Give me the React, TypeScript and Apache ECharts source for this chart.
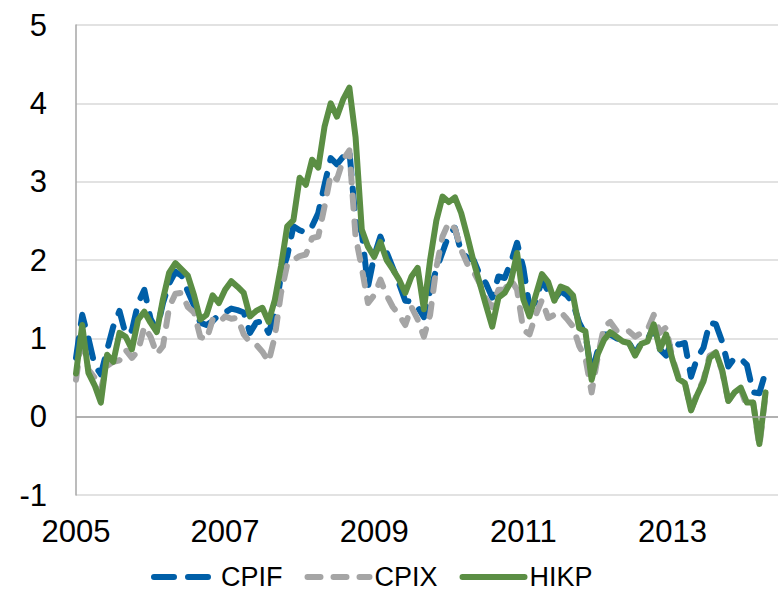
import React, { useEffect, useRef } from "react";
import * as echarts from "echarts";

const START_YEAR = 2005;
const MONTH_COUNT = 114; // Jan 2005 .. Jun 2014 (axis extent)
const MONTHS: string[] = [];
for (let k = 0; k < MONTH_COUNT; k++) {
  const y = START_YEAR + Math.floor(k / 12);
  const m = (k % 12) + 1;
  MONTHS.push(`${y}-${m < 10 ? "0" + m : m}`);
}

const SERIES_NAMES = ["CPIF", "CPIX", "HIKP"];

const CPIF = [
  0.75, 1.3, 1.0, 0.66, 0.54, 0.85, 1.15, 1.35, 1.05, 1.1, 1.45, 1.62,
  1.25, 1.1, 1.45, 1.7, 1.85, 1.8, 1.6, 1.42, 1.2, 1.17, 1.22, 1.3,
  1.33, 1.38, 1.36, 1.33, 1.07, 1.2, 1.22, 1.07, 1.3, 1.8, 2.05, 2.43,
  2.38, 2.35, 2.43, 2.6, 2.96, 3.3, 3.22, 3.32, 3.4, 2.5, 2.35, 1.66,
  2.05, 2.3, 2.1, 1.9, 1.7, 1.48, 1.47, 1.4, 1.27, 1.6, 1.88, 2.1,
  2.32, 2.41, 2.1, 2.03, 2.0, 1.81, 1.7, 1.52, 1.79, 1.77, 1.97, 2.22,
  1.9, 1.4, 1.46, 1.75, 1.6, 1.5, 1.6, 1.55, 1.45, 1.2, 1.05, 0.55,
  0.85, 1.05, 1.05, 1.0, 0.98, 0.95, 0.8, 0.95, 0.98, 1.15, 0.86, 0.78,
  0.98, 0.92, 0.94, 0.51, 0.75, 0.88, 1.2, 1.18, 0.96, 0.64, 0.75, 0.74,
  0.66, 0.31, 0.3, 0.57,
];

const CPIX = [
  0.47, 1.05, 0.6, 0.5, 0.35, 0.65, 0.7, 0.72, 0.85, 0.75, 0.84, 1.15,
  1.02, 0.8, 0.9, 1.4, 1.57, 1.58, 1.4, 1.33, 1.02, 0.98, 1.24, 1.2,
  1.28, 1.25, 1.26, 1.05, 0.95, 0.92, 0.83, 0.7, 1.02, 1.58, 1.94, 2.0,
  2.05, 2.07, 2.28, 2.3, 2.68, 3.09, 3.03, 3.28, 3.4, 2.3, 1.9, 1.45,
  1.55, 1.75, 1.55, 1.4, 1.3, 1.17, 1.4, 1.24, 1.02, 1.3, 1.9, 2.3,
  2.48, 2.4, 2.13, 1.95, 1.85, 1.7, 1.5, 1.4, 1.62, 1.62, 1.75, 1.62,
  1.11, 1.05, 1.3, 1.49, 1.26, 1.3, 1.34, 1.25, 1.15, 0.9, 0.75, 0.31,
  0.77, 1.15, 1.21, 1.1, 1.07, 1.09, 1.02, 1.07, 1.11, 1.3, 1.07, 1.14,
  0.75, 0.5, 0.45, 0.08, 0.3, 0.47, 0.78, 0.82, 0.58, 0.2, 0.3, 0.35,
  0.13, 0.18, -0.38, 0.28,
];

const HIKP = [
  0.55, 1.17, 0.56, 0.4, 0.18, 0.79, 0.7, 1.07, 1.02, 0.86, 1.24, 1.34,
  1.2, 1.08, 1.5, 1.84, 1.96, 1.88, 1.8, 1.55, 1.24, 1.3, 1.55, 1.45,
  1.62, 1.73, 1.66, 1.58, 1.28, 1.35, 1.39, 1.21, 1.49, 1.92, 2.43, 2.51,
  3.05, 2.96, 3.28, 3.18, 3.7, 4.0, 3.83, 4.05, 4.2, 3.57, 2.39, 2.17,
  2.04, 2.23, 2.0, 1.88, 1.75, 1.58, 1.79, 1.9, 1.37, 2.0, 2.5, 2.81,
  2.74, 2.8, 2.6, 2.3, 1.98, 1.7, 1.42, 1.15, 1.52, 1.58, 1.72, 2.09,
  1.5, 1.28, 1.55, 1.82, 1.72, 1.48, 1.66, 1.63, 1.55, 1.13, 1.09, 0.47,
  0.8, 0.98, 1.08, 1.02, 0.96, 0.94, 0.78, 0.93, 0.96, 1.18, 0.86, 1.05,
  0.73, 0.48, 0.43, 0.08, 0.28, 0.45, 0.75, 0.82, 0.6, 0.2, 0.31, 0.37,
  0.18, 0.18, -0.35, 0.31,
];

const Y_MIN = -1;
const Y_MAX = 5;

const FONT = "'Liberation Sans', Arial, sans-serif";

export default function App() {
  const ref = useRef<HTMLDivElement>(null);

  useEffect(() => {
    if (!ref.current) return;
    const chart = echarts.init(ref.current, null, { renderer: "svg" });
    chart.setOption({
      animation: false,
      backgroundColor: "#ffffff",
      grid: { left: 76, right: 0, top: 25, bottom: 96, containLabel: false },
      legend: {
        data: SERIES_NAMES,
        left: 146,
        top: 558,
        itemWidth: 62,
        itemHeight: 14,
        itemGap: 22,
        itemStyle: { opacity: 0 },
        lineStyle: { width: 6, cap: "round" },
        textStyle: { fontSize: 27, lineHeight: 28, color: "#000", fontFamily: FONT },
      },
      xAxis: {
        type: "category",
        data: MONTHS,
        boundaryGap: false,
        axisLine: { show: false },
        axisTick: { show: false },
        splitLine: { show: false },
        axisLabel: {
          interval: 23,
          formatter: (v: string) => v.slice(0, 4),
          fontSize: 31,
          color: "#000",
          fontFamily: FONT,
          margin: 21,
        },
      },
      yAxis: {
        type: "value",
        min: Y_MIN,
        max: Y_MAX,
        interval: 1,
        axisLine: { show: true, lineStyle: { color: "#a6a6a6", width: 1.5 } },
        axisTick: { show: false },
        splitLine: { show: true, lineStyle: { color: "#d9d9d9", width: 1.5 } },
        axisLabel: { fontSize: 31, color: "#000", fontFamily: FONT, margin: 29 },
      },
      series: [
        {
          name: "CPIF",
          type: "line",
          data: CPIF,
          symbol: "none",
          color: "#005FA8",
          lineStyle: { width: 6, type: [20, 14], cap: "round", join: "round", color: "#005FA8" },
          markLine: {
            silent: true,
            symbol: "none",
            label: { show: false },
            lineStyle: { color: "#a0a0a0", width: 1.5, type: "solid" },
            data: [{ yAxis: 0 }],
          },
        },
        {
          name: "CPIX",
          type: "line",
          data: CPIX,
          symbol: "none",
          color: "#A5A5A5",
          lineStyle: { width: 6, type: [13, 13], cap: "round", join: "round", color: "#A5A5A5" },
        },
        {
          name: "HIKP",
          type: "line",
          data: HIKP,
          symbol: "none",
          color: "#5B8E44",
          lineStyle: { width: 6, type: "solid", cap: "round", join: "round", color: "#5B8E44" },
        },
      ],
    });
    return () => chart.dispose();
  }, []);

  return (
    <div
      ref={ref}
      style={{ position: "absolute", left: 0, top: 0, width: 778, height: 591, overflow: "hidden" }}
    />
  );
}
